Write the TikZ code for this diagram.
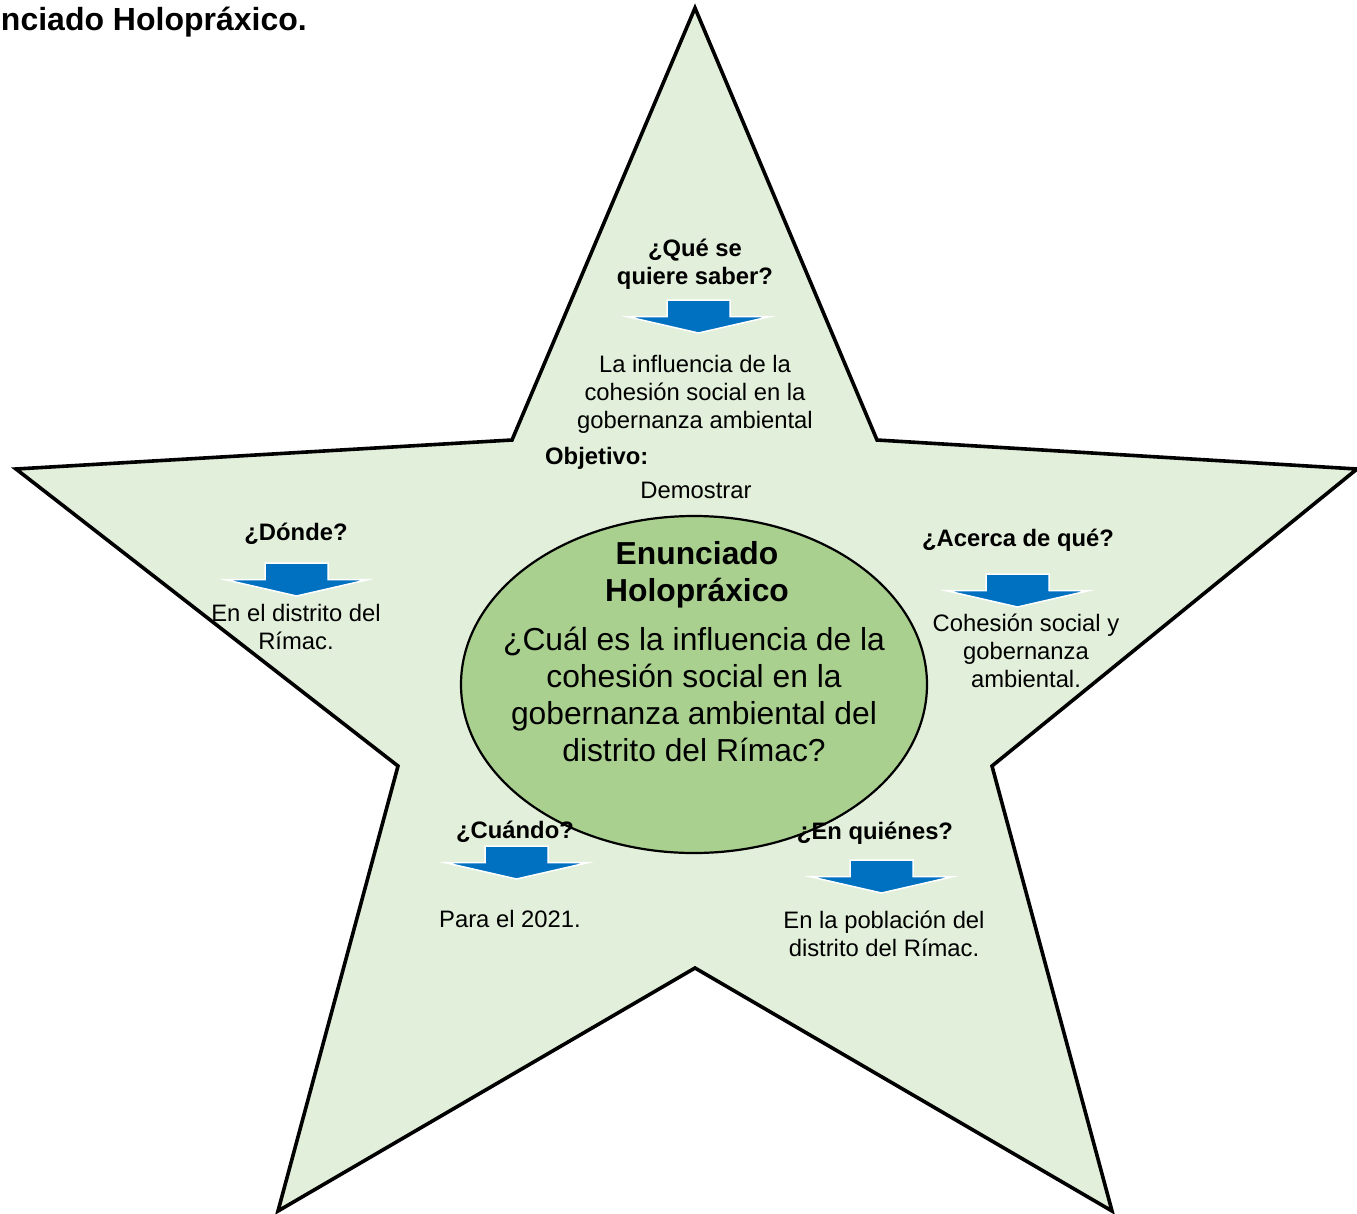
\documentclass[tikz,border=0pt]{standalone}
\usepackage{fontspec}
\setmainfont{Liberation Sans}
\usetikzlibrary{shapes.geometric}
\definecolor{starfill}{RGB}{226,239,218}
\definecolor{ellfill}{RGB}{169,208,142}
\definecolor{arrblue}{RGB}{0,112,192}
\begin{document}
\begin{tikzpicture}[x=1pt,y=-1pt,
  starsty/.style={fill=starfill, draw=black, line width=3.6pt, line join=miter},
  ellsty/.style={fill=ellfill, draw=black, line width=2.2pt},
  sm/.style={font=\fontsize{23.8}{28}\selectfont, align=center, inner sep=0pt, text=black},
  smb/.style={sm, font=\fontsize{23.8}{28}\selectfont\bfseries},
  bigb/.style={font=\fontsize{31.8}{37}\selectfont\bfseries, align=center, inner sep=0pt},
  big/.style={font=\fontsize{31.8}{37}\selectfont, align=center, inner sep=0pt},
  downarrow/.pic={\path[fill=arrblue, draw=white, line width=1.5pt, line join=miter, miter limit=25]
     (-31.5,0) -- (31.5,0) -- (31.5,16.5) -- (72,16.5) -- (0,33) -- (-72,16.5) -- (-31.5,16.5) -- cycle;}
]
\useasboundingbox (0,0) rectangle (1357,1213);
% star
\coordinate (t) at (695,8);
\coordinate (iur) at (877,440);
\coordinate (r) at (1357,469);
\coordinate (ir) at (992,766);
\coordinate (br) at (1112,1211);
\coordinate (ib) at (695,968);
\coordinate (bl) at (278,1211);
\coordinate (il) at (398,766);
\coordinate (l) at (16,469);
\coordinate (iul) at (512,440);
\draw[starsty] (t) -- (iur) -- (r) -- (ir) -- (br) -- (ib) -- (bl) -- (il) -- (l) -- (iul) -- cycle;
% central ellipse
\node[ellsty, ellipse, minimum width=466pt, minimum height=337pt, inner sep=0pt] (ell) at (694,684.5) {};
% title clipped
\node[font=\fontsize{32}{37}\selectfont\bfseries, anchor=base east, inner sep=0pt] (ttl) at (307,30) {nciado Holopráxico.};
% arrows
\pic at (698.5,300) {downarrow};
\pic at (296.5,563) {downarrow};
\pic at (1017.5,574) {downarrow};
\pic at (516.5,846) {downarrow};
\pic at (881.5,860) {downarrow};
% texts
\node[smb] (q1) at (695,264) {¿Qué se\\quiere saber?};
\node[sm] (a1) at (695,394) {La influencia de la\\cohesión social en la\\gobernanza ambiental};
\node[smb, anchor=west] (obj) at (545,458) {Objetivo:};
\node[sm] (dem) at (696,490) {Demostrar};
\node[smb] (q2) at (296,534) {¿Dónde?};
\node[sm] (a2) at (296,627) {En el distrito del\\Rímac.};
\node[smb] (q3) at (1018,540) {¿Acerca de qué?};
\node[sm] (a3) at (1026,651) {Cohesión social y\\gobernanza\\ambiental.};
\node[smb] (q4) at (515,832) {¿Cuándo?};
\node[sm] (a4) at (510,919) {Para el 2021.};
\node[smb] (q5) at (875,833) {¿En quiénes?};
\node[sm] (a5) at (884,934) {En la población del\\distrito del Rímac.};
\node[bigb] (eh) at (697,575) {Enunciado\\Holopráxico};
\node[big] (eq) at (694,694.5) {¿Cuál es la influencia de la\\cohesión social en la\\gobernanza ambiental del\\distrito del Rímac?};
\end{tikzpicture}
\end{document}
